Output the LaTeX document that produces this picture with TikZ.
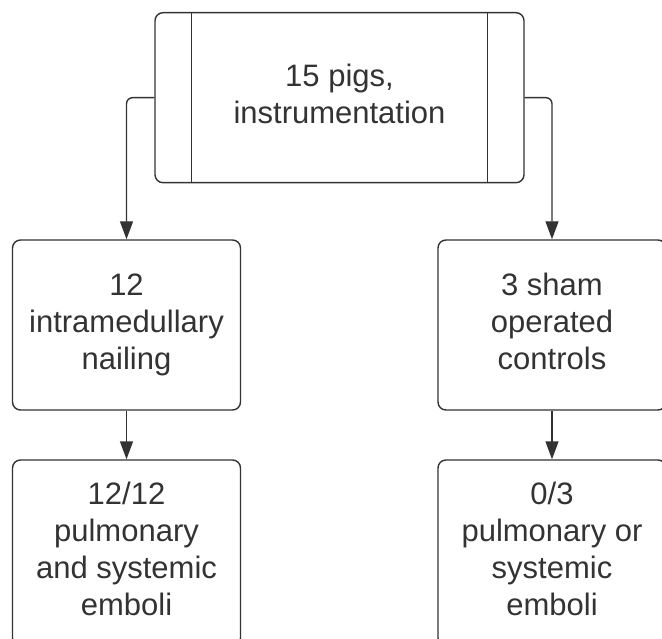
\documentclass[tikz,border=0pt]{standalone}
\usepackage{fontspec}
\setmainfont{Liberation Sans}
\usetikzlibrary{arrows.meta}
\definecolor{ink}{HTML}{333333}
\begin{document}
\begin{tikzpicture}[x=1pt,y=-1pt,
  box/.style={draw=ink,line width=1.4pt,rounded corners=8pt,align=center,
    inner sep=0pt,text=ink,minimum width=228pt,minimum height=170pt,
    font=\fontsize{31}{37}\selectfont},
  arr/.style={draw=ink,line width=1.4pt,-{Triangle[length=18pt,width=13pt]}}]
\useasboundingbox (0,0) rectangle (662,639);
\node[box,minimum width=369pt,minimum height=170pt] (top) at (339.5,97.7)
  {\strut 15 pigs,\\instrumentation\strut};
\draw[ink,line width=1.4pt] ([xshift=37pt]top.north west) -- ([xshift=37pt]top.south west);
\draw[ink,line width=1.4pt] ([xshift=-37pt]top.north east) -- ([xshift=-37pt]top.south east);
\node[box] (left) at (126.5,325) {\strut 12\\intramedullary\\nailing\strut};
\node[box] (right) at (552,325) {\strut 3 sham\\operated\\controls\strut};
\node[box,minimum height=186pt] (lbot) at (126.5,553) {\strut 12/12\\pulmonary\\and systemic\\emboli\strut};
\node[box,minimum height=186pt] (rbot) at (552,553) {\strut 0/3\\pulmonary or\\systemic\\emboli\strut};
\draw[arr,rounded corners=6pt] (top.west) -| (left.north);
\draw[arr,rounded corners=6pt] (top.east) -| (right.north);
\draw[arr] (left.south) -- (lbot.north);
\draw[arr] (right.south) -- (rbot.north);
\end{tikzpicture}
\end{document}
